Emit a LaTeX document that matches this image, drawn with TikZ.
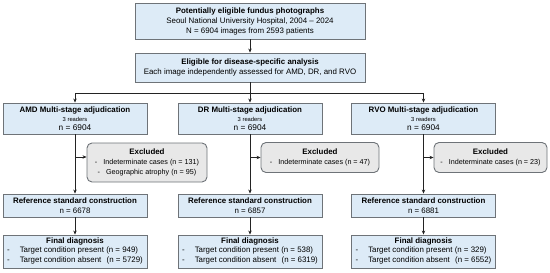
\documentclass[tikz,border=0pt]{standalone}
\usepackage{fontspec}
\setmainfont{Liberation Sans}
\usetikzlibrary{arrows.meta}

\definecolor{cajaazul}{RGB}{221,235,247}
\definecolor{bordegris}{RGB}{110,115,120}
\definecolor{excgris}{RGB}{232,232,232}
\definecolor{lineanegra}{RGB}{35,35,35}

\newcommand{\txtnormal}{\fontsize{7.9}{10}\selectfont}
\newcommand{\txtchico}{\fontsize{5.8}{6.8}\selectfont}
\newcommand{\txtgrande}{\fontsize{8.3}{10}\selectfont}
\newcommand{\txtlista}{\fontsize{7.2}{9.2}\selectfont}

\tikzset{
  caja/.style={draw=bordegris, fill=cajaazul, line width=0.9pt,
    align=center, inner sep=0pt},
  cajaexc/.style={draw=bordegris, fill=excgris, line width=0.9pt,
    rounded corners=5pt, align=center, inner sep=0pt},
  linea/.style={lineanegra, line width=0.6pt},
  flecha/.style={linea, -{Stealth[length=4pt,width=3.4pt]}}
}

\begin{document}
\begin{tikzpicture}[x=1pt, y=-1pt, font=\txtnormal]

\useasboundingbox (0,0) rectangle (550,273);

% ═══════════════════════════════════════════════════════
% CAJAS SUPERIORES
% ═══════════════════════════════════════════════════════

% Fotografias candidatas
\node[caja, minimum width=230pt, minimum height=36pt] (fotos) at (250,21) {
    \textbf{Potentially eligible fundus photographs}\\
    Seoul National University Hospital, 2004 – 2024\\
    N = 6904 images from 2593 patients};

% Elegibles
\node[caja, minimum width=230pt, minimum height=29pt] (elegibles) at (250,67.5) {
    \textbf{Eligible for disease-specific analysis}\\
    Each image independently assessed for AMD, DR, and RVO};

% ═══════════════════════════════════════════════════════
% ADJUDICACION POR ENFERMEDAD
% ═══════════════════════════════════════════════════════

\node[caja, minimum width=144pt, minimum height=31pt] (amd) at (75,118.5) {
    \textbf{AMD Multi-stage adjudication}\\[-1.5pt]
    {\txtchico 3 readers}\\[-1pt]
    {\txtgrande n = 6904}};

\node[caja, minimum width=144pt, minimum height=31pt] (dr) at (250,118.5) {
    \textbf{DR Multi-stage adjudication}\\[-1.5pt]
    {\txtchico 3 readers}\\[-1pt]
    {\txtgrande n = 6904}};

\node[caja, minimum width=144pt, minimum height=31pt] (rvo) at (423.5,118.5) {
    \textbf{RVO Multi-stage adjudication}\\[-1.5pt]
    {\txtchico 3 readers}\\[-1pt]
    {\txtgrande n = 6904}};

% ═══════════════════════════════════════════════════════
% EXCLUIDAS
% ═══════════════════════════════════════════════════════

\node[cajaexc, minimum width=120pt, minimum height=39pt] (amdexc) at (147,162.5) {
    \textbf{Excluded}\\
    {\txtlista -\hspace{6pt}Indeterminate cases (n = 131)}\\
    {\txtlista -\hspace{6pt}Geographic atrophy (n = 95)}};

\node[cajaexc, minimum width=118pt, minimum height=30pt] (drexc) at (320,157.5) {
    \textbf{Excluded}\\
    {\txtlista -\hspace{6pt}Indeterminate cases (n = 47)}};

\node[cajaexc, minimum width=113pt, minimum height=30pt] (rvoexc) at (490.5,157.5) {
    \textbf{Excluded}\\
    {\txtlista -\hspace{6pt}Indeterminate cases (n = 23)}};

% ═══════════════════════════════════════════════════════
% ESTANDAR DE REFERENCIA
% ═══════════════════════════════════════════════════════

\node[caja, minimum width=144pt, minimum height=23pt] (amdref) at (75,205.5) {
    \textbf{Reference standard construction}\\
    n = 6678};

\node[caja, minimum width=144pt, minimum height=23pt] (drref) at (250,205.5) {
    \textbf{Reference standard construction}\\
    n = 6857};

\node[caja, minimum width=144pt, minimum height=23pt] (rvoref) at (423.5,205.5) {
    \textbf{Reference standard construction}\\
    n = 6881};

% ═══════════════════════════════════════════════════════
% DIAGNOSTICO FINAL
% ═══════════════════════════════════════════════════════

\node[caja, minimum width=144pt, minimum height=33pt] (amdfin) at (75,251.5) {
    \textbf{Final diagnosis}\\[-1pt]
    \begin{tabular}{@{}l@{\hspace{10pt}}l@{}}
    - & Target condition present (n = 949)\\
    - & Target condition absent\hspace{3pt} (n = 5729)
    \end{tabular}};

\node[caja, minimum width=144pt, minimum height=33pt] (drfin) at (250,251.5) {
    \textbf{Final diagnosis}\\[-1pt]
    \begin{tabular}{@{}l@{\hspace{10pt}}l@{}}
    - & Target condition present (n = 538)\\
    - & Target condition absent\hspace{3pt} (n = 6319)
    \end{tabular}};

\node[caja, minimum width=144pt, minimum height=33pt] (rvofin) at (423.5,251.5) {
    \textbf{Final diagnosis}\\[-1pt]
    \begin{tabular}{@{}l@{\hspace{10pt}}l@{}}
    - & Target condition present (n = 329)\\
    - & Target condition absent\hspace{3pt} (n = 6552)
    \end{tabular}};

% ═══════════════════════════════════════════════════════
% CONEXIONES
% ═══════════════════════════════════════════════════════

\draw[flecha] (fotos) -- (elegibles);

% rama horizontal hacia las tres columnas
\coordinate (rama) at (250,93);
\draw[linea] (elegibles.south) -- (rama);
\draw[linea] (amd.north |- rama) -- (rvo.north |- rama);
\draw[flecha] (amd.north |- rama) -- (amd.north);
\draw[flecha] (rama) -- (dr.north);
\draw[flecha] (rvo.north |- rama) -- (rvo.north);

% adjudicacion -> referencia -> diagnostico
\draw[flecha] (amd) -- (amdref);
\draw[flecha] (dr) -- (drref);
\draw[flecha] (rvo) -- (rvoref);
\draw[flecha] (amdref) -- (amdfin);
\draw[flecha] (drref) -- (drfin);
\draw[flecha] (rvoref) -- (rvofin);

% salidas a excluidas
\coordinate (amdsal) at (75,157);
\draw[flecha] (amdsal) -- (amdsal -| amdexc.west);
\draw[flecha] (dr |- drexc.west) -- (drexc.west);
\draw[flecha] (rvo |- rvoexc.west) -- (rvoexc.west);

\end{tikzpicture}
\end{document}
